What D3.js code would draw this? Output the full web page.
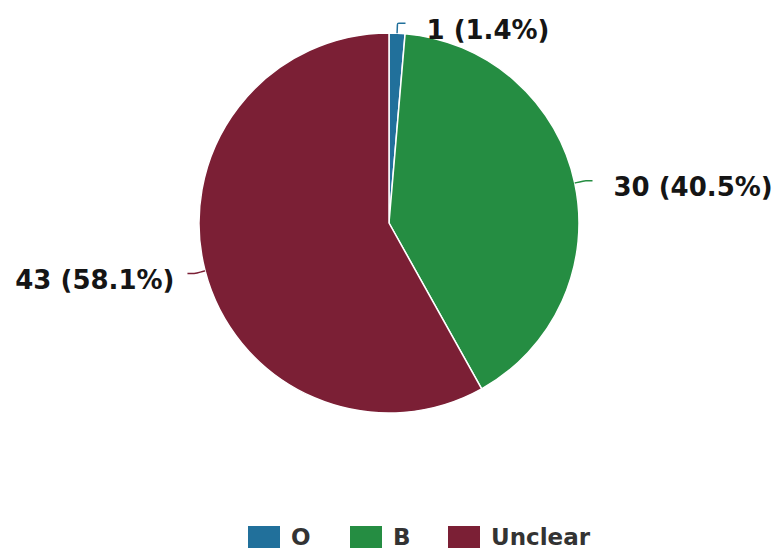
<!DOCTYPE html>
<html><head><meta charset="utf-8">
<script src="https://cdn.jsdelivr.net/npm/d3@7"></script>
<style>body{margin:0;background:#fff}svg{display:block}</style>
</head><body>
<svg id="c" width="777" height="555"></svg>
<script>
const categories = ["O", "B", "Unclear"];
const values = [1, 30, 43];
const colors = ["#21709b", "#258d42", "#7b1f35"];

const svg = d3.select("#c");
const cx = 389, cy = 223, R = 190;
const total = d3.sum(values);
const data = categories.map((c, i) => ({cat: c, value: values[i], color: colors[i]}));
const pie = d3.pie().sort(null).value(d => d.value);
const arcs = pie(data);
const arc = d3.arc().innerRadius(0).outerRadius(R);

const g = svg.append("g").attr("transform", `translate(${cx},${cy})`);
g.selectAll("path.slice").data(arcs).enter().append("path")
  .attr("class", "slice")
  .attr("d", arc)
  .attr("fill", d => d.data.color)
  .attr("stroke", "#fff").attr("stroke-width", 1.5).attr("stroke-linejoin", "round");

// leader lines and labels
arcs.forEach(a => {
  const m = (a.startAngle + a.endAngle) / 2;
  const sx = Math.sin(m), sy = -Math.cos(m);
  const p0 = [R * sx, R * sy];
  const p1 = [(R + 10) * sx, (R + 10) * sy];
  const right = sx >= 0;
  const p2 = [p1[0] + (right ? 8 : -8), p1[1]];
  const line = d3.line().curve(d3.curveBasis);
  g.append("path")
    .attr("d", line([p0, p1, p1, p2]))
    .attr("fill", "none").attr("stroke", a.data.color).attr("stroke-width", 1.5);
  const pct = (a.data.value / total * 100).toFixed(1);
  g.append("text")
    .attr("x", p2[0] + (right ? 21 : -13))
    .attr("y", p2[1] + 6.5)
    .attr("dy", "0.35em")
    .attr("text-anchor", right ? "start" : "end")
    .attr("font-family", "DejaVu Sans, sans-serif")
    .attr("font-weight", "bold")
    .attr("font-size", 26)
    .attr("fill", "#151515")
    .text(`${a.data.value} (${pct}%)`);
});

// legend
const legendX = [248, 350, 448];
const lg = svg.append("g");
data.forEach((d, i) => {
  lg.append("rect").attr("x", legendX[i]).attr("y", 526).attr("width", 32).attr("height", 22)
    .attr("fill", d.color);
  lg.append("text").attr("x", legendX[i] + 43).attr("y", 537).attr("dy", "0.35em")
    .attr("font-family", "DejaVu Sans, sans-serif").attr("font-weight", "bold")
    .attr("font-size", 23).attr("fill", "#333").text(d.cat);
});
</script>
</body></html>
